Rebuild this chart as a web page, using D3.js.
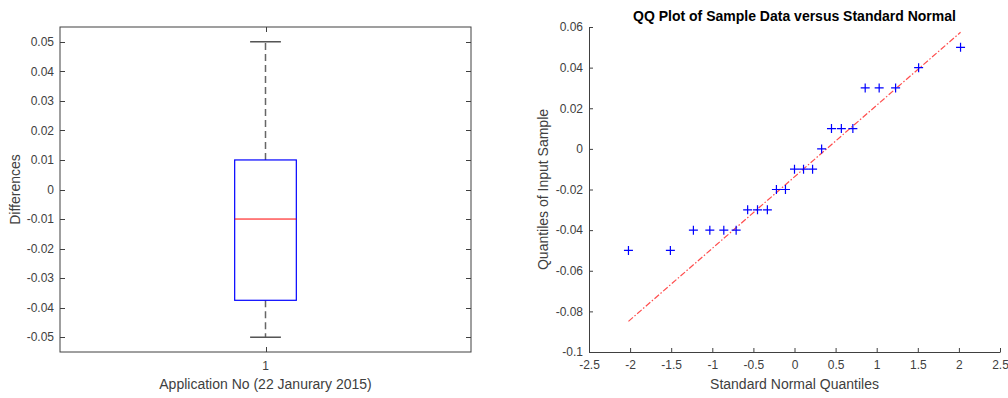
<!DOCTYPE html>
<html>
<head>
<meta charset="utf-8">
<script src="https://cdn.jsdelivr.net/npm/d3@7"></script>
<style>
  html, body { margin: 0; padding: 0; background: #fff; }
  svg { display: block; font-family: "Liberation Sans", Arial, Helvetica, sans-serif; }
</style>
</head>
<body>
<svg id="chart" width="1008" height="398"></svg>
<script>
// ---------- DATA ----------
// Box plot summary (Differences, Application No 1)
const boxCategories = ["1"];
const boxQ1 = [-0.0375];
const boxMedian = [-0.01];
const boxQ3 = [0.01];
const boxWhiskerLow = [-0.05];
const boxWhiskerHigh = [0.05];
const boxYTicks = [-0.05, -0.04, -0.03, -0.02, -0.01, 0, 0.01, 0.02, 0.03, 0.04, 0.05];

// QQ plot: theoretical normal quantiles vs sorted sample
const qqTheoretical = [-2.02, -1.51, -1.23, -1.03, -0.86, -0.71, -0.57, -0.45, -0.33, -0.22, -0.11, 0,
                        0.11, 0.22, 0.33, 0.45, 0.57, 0.71, 0.86, 1.03, 1.23, 1.51, 2.02];
const qqSample = [-0.05, -0.05, -0.04, -0.04, -0.04, -0.04, -0.03, -0.03, -0.03, -0.02, -0.02, -0.01,
                  -0.01, -0.01, 0, 0.01, 0.01, 0.01, 0.03, 0.03, 0.03, 0.04, 0.05];
const qqLineX = [-2.02, 2.02];
const qqLineY = [-0.0849, 0.0574];
const qqXTicks = [-2.5, -2, -1.5, -1, -0.5, 0, 0.5, 1, 1.5, 2, 2.5];
const qqYTicks = [-0.1, -0.08, -0.06, -0.04, -0.02, 0, 0.02, 0.04, 0.06];

// ---------- STYLE ----------
const textColor = "#404040";
const axisColor = "#404040";
const fontSize = 12;
const labelSize = 14;
const svg = d3.select("#chart");
const fmt = v => (Math.abs(v) < 1e-12 ? "0" : String(+v.toFixed(4)));

// ---------- LEFT: BOX PLOT ----------
{
  const L = 60, R = 471, T = 27, B = 352;
  const x = d3.scaleLinear().domain([0.5, 1.5]).range([L, R]);
  const y = d3.scaleLinear().domain([-0.055, 0.055]).range([B, T]);
  const g = svg.append("g");
  const tk = 5;

  g.append("rect").attr("x", L).attr("y", T).attr("width", R - L).attr("height", B - T)
    .attr("fill", "none").attr("stroke", axisColor).attr("stroke-width", 1);

  boxYTicks.forEach(v => {
    const yy = Math.round(y(v)) + 0.5;
    g.append("line").attr("x1", L).attr("x2", L + tk).attr("y1", yy).attr("y2", yy).attr("stroke", axisColor);
    g.append("line").attr("x1", R - tk).attr("x2", R).attr("y1", yy).attr("y2", yy).attr("stroke", axisColor);
    g.append("text").attr("x", L - 6).attr("y", y(v)).attr("dy", "0.35em")
      .attr("text-anchor", "end").attr("fill", textColor).attr("font-size", fontSize).text(fmt(v));
  });

  boxCategories.forEach((c, i) => {
    const xx = Math.round(x(i + 1)) + 0.5;
    g.append("line").attr("x1", xx).attr("x2", xx).attr("y1", B).attr("y2", B - tk).attr("stroke", axisColor);
    g.append("line").attr("x1", xx).attr("x2", xx).attr("y1", T).attr("y2", T + tk).attr("stroke", axisColor);
    g.append("text").attr("x", x(i + 1)).attr("y", 370).attr("text-anchor", "middle")
      .attr("fill", textColor).attr("font-size", fontSize).text(c);
  });

  boxCategories.forEach((c, i) => {
    const cx = x(i + 1);
    const bw = x(1.075) - x(1);
    const cw = bw / 2;
    g.append("line").attr("x1", cx).attr("x2", cx).attr("y1", y(boxQ3[i])).attr("y2", y(boxWhiskerHigh[i]))
      .attr("stroke", "#666").attr("stroke-width", 1.5).attr("stroke-dasharray", "7,4");
    g.append("line").attr("x1", cx).attr("x2", cx).attr("y1", y(boxQ1[i])).attr("y2", y(boxWhiskerLow[i]))
      .attr("stroke", "#666").attr("stroke-width", 1.5).attr("stroke-dasharray", "7,4");
    [boxWhiskerHigh[i], boxWhiskerLow[i]].forEach(v => {
      g.append("line").attr("x1", cx - cw).attr("x2", cx + cw).attr("y1", y(v)).attr("y2", y(v))
        .attr("stroke", "#555").attr("stroke-width", 1.5);
    });
    g.append("rect").attr("x", cx - bw).attr("y", y(boxQ3[i])).attr("width", 2 * bw)
      .attr("height", y(boxQ1[i]) - y(boxQ3[i])).attr("fill", "none").attr("stroke", "#0000ff").attr("stroke-width", 1.2);
    g.append("line").attr("x1", cx - bw).attr("x2", cx + bw).attr("y1", y(boxMedian[i])).attr("y2", y(boxMedian[i]))
      .attr("stroke", "#ff0000").attr("stroke-width", 1);
  });

  g.append("text").attr("x", (L + R) / 2).attr("y", 389).attr("text-anchor", "middle")
    .attr("fill", textColor).attr("font-size", labelSize).text("Application No (22 Janurary 2015)");
  g.append("text").attr("transform", `translate(20,${(T + B) / 2}) rotate(-90)`).attr("text-anchor", "middle")
    .attr("fill", textColor).attr("font-size", labelSize).text("Differences");
}

// ---------- RIGHT: QQ PLOT ----------
{
  const L = 589, R = 1000, T = 27, B = 352;
  const x = d3.scaleLinear().domain([-2.5, 2.5]).range([L, R]);
  const y = d3.scaleLinear().domain([-0.1, 0.06]).range([B, T]);
  const g = svg.append("g");
  const tk = 4;

  const xAxis = d3.axisBottom(x).tickValues(qqXTicks).tickFormat(fmt).tickSizeInner(-tk).tickSizeOuter(0).tickPadding(8);
  const yAxis = d3.axisLeft(y).tickValues(qqYTicks).tickFormat(fmt).tickSizeInner(-tk).tickSizeOuter(0).tickPadding(8);

  const gx = g.append("g").attr("transform", `translate(0,${B})`).call(xAxis);
  const gy = g.append("g").attr("transform", `translate(${L},0)`).call(yAxis);
  [gx, gy].forEach(a => {
    a.select(".domain").attr("stroke", axisColor);
    a.selectAll(".tick line").attr("stroke", axisColor);
    a.selectAll(".tick text").attr("fill", textColor).attr("font-size", fontSize)
      .attr("font-family", "Liberation Sans, Arial, sans-serif");
  });
  gy.selectAll(".tick text").attr("x", -6);

  g.append("line").attr("x1", x(qqLineX[0])).attr("y1", y(qqLineY[0]))
    .attr("x2", x(qqLineX[1])).attr("y2", y(qqLineY[1]))
    .attr("stroke", "#ff0000").attr("stroke-opacity", 0.7).attr("stroke-width", 1.2)
    .attr("stroke-dasharray", "6,2,1.5,2");

  const ms = 4.5;
  g.append("g").selectAll("path").data(qqTheoretical.map((v, i) => [v, qqSample[i]])).join("path")
    .attr("d", d => {
      const px = x(d[0]), py = y(d[1]);
      return `M${px - ms},${py}H${px + ms}M${px},${py - ms}V${py + ms}`;
    })
    .attr("stroke", "#0000ff").attr("stroke-width", 1.2).attr("fill", "none");

  g.append("text").attr("x", (L + R) / 2).attr("y", 21).attr("text-anchor", "middle")
    .attr("fill", "#000").attr("font-weight", "bold").attr("font-size", labelSize)
    .text("QQ Plot of Sample Data versus Standard Normal");
  g.append("text").attr("x", (L + R) / 2).attr("y", 389).attr("text-anchor", "middle")
    .attr("fill", textColor).attr("font-size", labelSize).text("Standard Normal Quantiles");
  g.append("text").attr("transform", `translate(548,${(T + B) / 2}) rotate(-90)`).attr("text-anchor", "middle")
    .attr("fill", textColor).attr("font-size", labelSize).text("Quantiles of Input Sample");
}
</script>
</body>
</html>
